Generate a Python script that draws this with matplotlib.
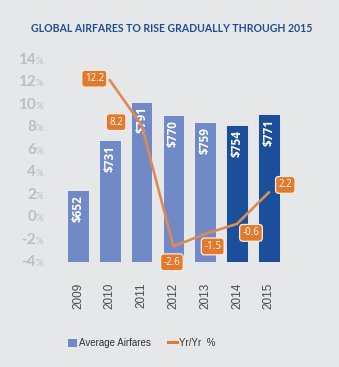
import matplotlib
matplotlib.use("Agg")
import matplotlib.pyplot as plt
from matplotlib.patches import Patch
from matplotlib.lines import Line2D
from matplotlib.transforms import blended_transform_factory, offset_copy

years = ["2009", "2010", "2011", "2012", "2013", "2014", "2015"]
fares = [652, 731, 791, 770, 759, 754, 771]
yoy_years = ["2010", "2011", "2012", "2013", "2014", "2015"]
yoy = [12.2, 8.2, -2.6, -1.5, -0.6, 2.2]
pct_ticks = [-4, -2, 0, 2, 4, 6, 8, 10, 12, 14]

BG = "#E6E7E9"
LIGHT_BAR = "#7189C6"
DARK_BAR = "#1C4F9A"
ORANGE = "#E27A2E"
LINE_ORANGE = "#DC8B55"
TITLE_BLUE = "#1F4E8F"

W, H = 339, 367
fig = plt.figure(figsize=(W / 100, H / 100), dpi=100, facecolor=BG)

# axes box in pixel terms: x from 55 to 305, y from 60 (14%) to 262 (-4%)
left, right, top, bottom = 55, 305, 60, 262
ax = fig.add_axes([left / W, 1 - bottom / H, (right - left) / W, (bottom - top) / H])
ax.set_facecolor("none")
step = 31.8
ax.set_xlim((left - 78) / step, (right - 78) / step)
ax.set_ylim(540, 856)

x = list(range(len(years)))
bar_colors = [LIGHT_BAR] * 5 + [DARK_BAR] * 2
ax.bar(x, fares, width=0.68, bottom=0, color=bar_colors, edgecolor="#F2F3F5",
       linewidth=0.6, zorder=2)
for xi, v in zip(x, fares):
    ax.annotate(f"${v}", (xi, v), xytext=(0, -5), textcoords="offset pixels",
                rotation=90, ha="center", va="top", color="white",
                fontsize=8.5, fontweight="bold", family="Open Sans", zorder=3)

ax.set_xticks(x)
ax.set_xticklabels(years, rotation=90, fontsize=8.5, color="#4A4A4A",
                   family="Liberation Sans")
ax.tick_params(axis="x", length=0, pad=15)
ax.set_yticks([])
for s in ax.spines.values():
    s.set_visible(False)

# percentage series on a twin axis
ax2 = ax.twinx()
ax2.set_ylim(-4, 14)
ax2.set_yticks([])
for s in ax2.spines.values():
    s.set_visible(False)
lx = [years.index(y) for y in yoy_years]
ax2.plot(lx, yoy, color=LINE_ORANGE, lw=1.9, solid_joinstyle="miter", zorder=4)

offsets = [(-15.5, 1.5), (-25.5, 3), (-1.5, -16), (7.5, -12.5), (14, -9), (16.5, 7.5)]
for xi, v, (dx, dy) in zip(lx, yoy, offsets):
    ax2.annotate(f"{v:.1f}", (xi, v), xytext=(dx, dy), textcoords="offset pixels",
                 ha="center", va="center", color="white", fontsize=7,
                 family="Open Sans", zorder=5,
                 bbox=dict(boxstyle="round,pad=0.3,rounding_size=0.35",
                           fc=ORANGE, ec="#FBEDE2", lw=0.9))

# left-hand percentage scale, big digits with a small % sign
trans = blended_transform_factory(fig.transFigure, ax2.transData)
for v in pct_ticks:
    fig.text(36 / W, v, f"{v}", transform=trans, ha="right", va="center",
             fontsize=11, fontweight="bold", color="#BDBEC0", family="Lato")
    fig.text(36 / W, v, "%", transform=offset_copy(trans, fig=fig, x=0, y=-1.5, units="dots"),
             ha="left", va="center", fontsize=7, color="#BDBEC0", family="Lato")

fig.text(172 / W, 1 - 28 / H, "GLOBAL AIRFARES TO RISE GRADUALLY THROUGH 2015",
         ha="center", va="center", fontsize=7.6, fontweight="bold",
         color=TITLE_BLUE, family="Lato")

handles = [Patch(facecolor=LIGHT_BAR, edgecolor="none"),
           Line2D([0], [0], color=ORANGE, lw=2.2)]
fig.legend(handles, ["Average Airfares", "Yr/Yr  %"], loc="center",
           bbox_to_anchor=(142 / W, 1 - 343 / H), ncol=2, frameon=False,
           fontsize=7, handlelength=0.9, handleheight=0.9, handletextpad=0.2,
           columnspacing=1.8, labelcolor="#333333",
           prop={"family": "Liberation Sans", "size": 7})

fig.savefig("out.png", dpi=100, facecolor=BG)
